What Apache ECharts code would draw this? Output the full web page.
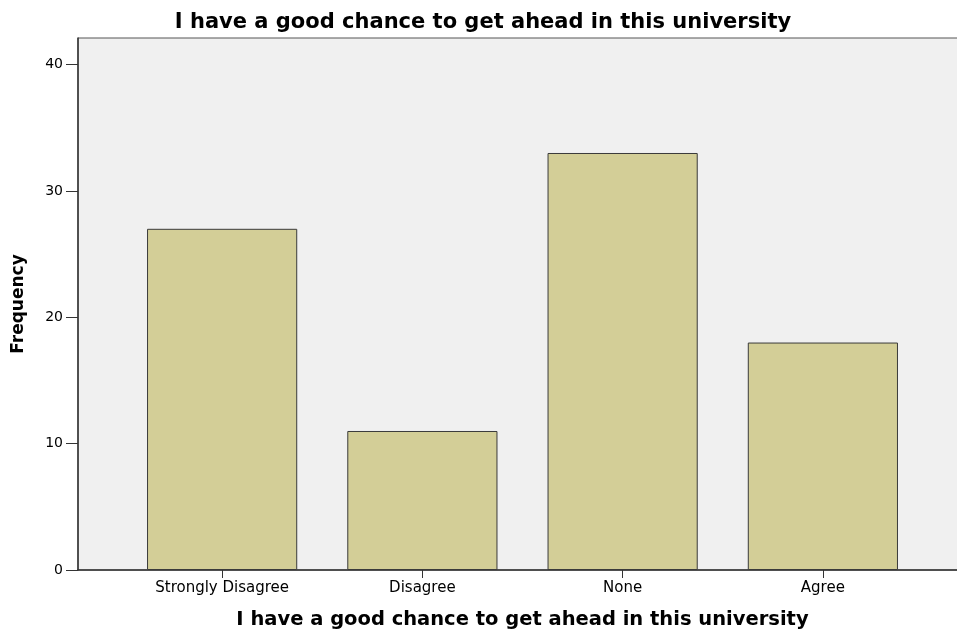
<!DOCTYPE html>
<html>
<head>
<meta charset="utf-8">
<script src="https://cdn.jsdelivr.net/npm/echarts@6/dist/echarts.min.js"></script>
<style>
  html, body { margin: 0; padding: 0; background: #fff; }
  #chart { width: 957px; height: 632px; }
</style>
</head>
<body>
<div id="chart"></div>
<script>
const categories = ['Strongly Disagree', 'Disagree', 'None', 'Agree'];
const frequencies = [27, 11, 33, 18];
const yTicks = [0, 10, 20, 30, 40];
const titleText = 'I have a good chance to get ahead in this university';

const chart = echarts.init(document.getElementById('chart'));
const font = 'DejaVu Sans, Verdana, sans-serif';

const option = {
  animation: false,
  title: {
    text: titleText,
    left: 478,
    textAlign: 'center',
    top: 7,
    textStyle: { fontFamily: font, fontSize: 21, fontWeight: 'bold', color: '#000' }
  },
  grid: [
    // background panel with the y axis
    { left: 78, right: -3, top: 38, bottom: 62, show: true, backgroundColor: '#f0f0f0',
      borderColor: '#555', borderWidth: 1, outerBoundsMode: 'none' },
    // bars sit in a narrower grid
    { left: 122, right: 34, top: 38, bottom: 62, outerBoundsMode: 'none' }
  ],
  xAxis: [
    {
      gridIndex: 0, type: 'category', data: categories,
      axisLine: { show: true, lineStyle: { color: '#333', width: 1.5 } },
      axisTick: { show: false }, axisLabel: { show: false }
    },
    {
      gridIndex: 1, type: 'category', data: categories,
      name: titleText, nameLocation: 'middle', nameGap: 40,
      nameTextStyle: { fontFamily: font, fontSize: 19.5, fontWeight: 'bold', color: '#000' },
      axisLine: { show: false },
      axisTick: { show: true, alignWithLabel: true, length: 8, lineStyle: { color: '#333' } },
      axisLabel: { fontFamily: font, fontSize: 15, color: '#000', margin: 11 }
    }
  ],
  yAxis: [
    {
      gridIndex: 0, type: 'value', min: 0, max: 42.1, interval: 10,
      name: 'Frequency', nameLocation: 'middle', nameGap: 51,
      nameTextStyle: { fontFamily: font, fontSize: 17, fontWeight: 'bold', color: '#000' },
      axisLine: { show: true, lineStyle: { color: '#333', width: 1.5 } },
      axisTick: { show: true, length: 12, customValues: yTicks, lineStyle: { color: '#333' } },
      axisLabel: { fontFamily: font, fontSize: 14, color: '#000', margin: 15, customValues: yTicks },
      splitLine: { show: false }
    },
    {
      gridIndex: 1, type: 'value', min: 0, max: 42.1, show: false
    }
  ],
  series: [
    {
      type: 'bar',
      xAxisIndex: 1, yAxisIndex: 1,
      data: frequencies,
      barWidth: '75%',
      itemStyle: { color: '#d3ce97', borderColor: '#3a3a3a', borderWidth: 1 }
    }
  ]
};

chart.setOption(option);
</script>
</body>
</html>
